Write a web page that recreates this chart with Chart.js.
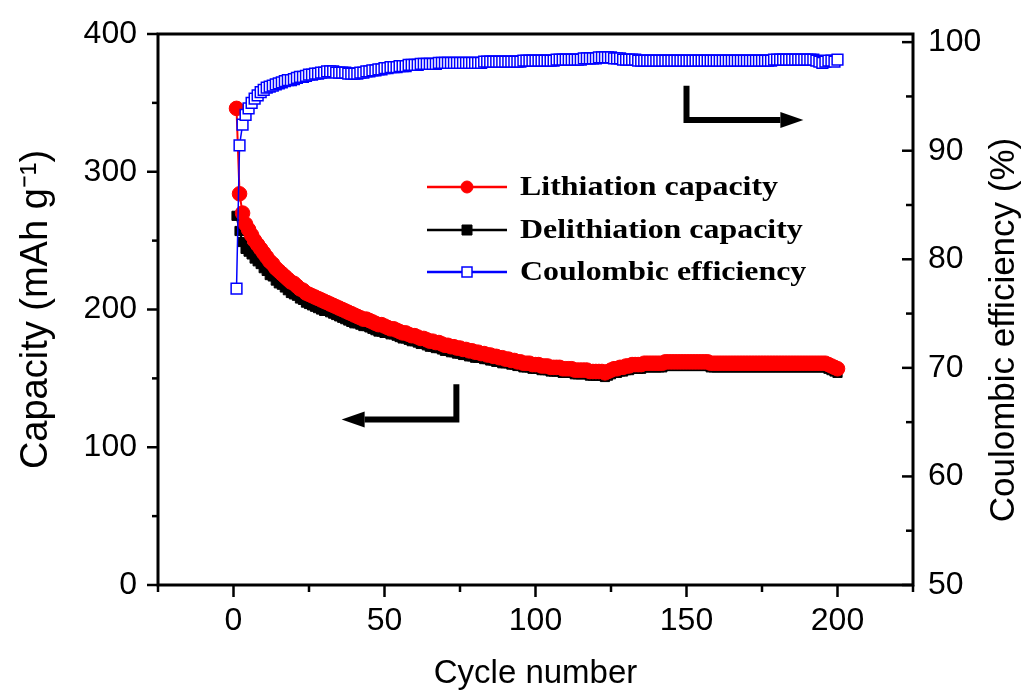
<!DOCTYPE html>
<html>
<head>
<meta charset="utf-8">
<script src="https://cdn.jsdelivr.net/npm/chart.js@4"></script>
<style>
  html, body { margin: 0; padding: 0; background: #fff; }
  #wrap { width: 1027px; height: 695px; }
</style>
</head>
<body>
<div id="wrap"><canvas id="capChart" width="1027" height="695"></canvas></div>
<script>
// capacity, cycle 1..200 (mAh/g)
const lithiation = [
  346, 284, 270, 262, 258, 254, 250, 247, 244, 241,
  238, 235, 233, 230, 228, 226, 224, 222, 220, 219,
  217, 215, 214, 212, 211, 210, 209, 208, 207, 206,
  205, 204, 203, 202, 201, 200, 199, 198, 197, 196,
  195, 194, 193, 193, 192, 191, 190, 189, 189, 188,
  187, 186, 186, 185, 184, 183, 183, 182, 181, 181,
  180, 179, 179, 178, 177, 177, 176, 176, 175, 174,
  174, 173, 173, 172, 172, 171, 171, 170, 170, 169,
  169, 168, 168, 167, 167, 166, 166, 165, 165, 164,
  164, 163, 163, 162, 162, 161, 161, 161, 160, 160,
  160, 159, 159, 159, 158, 158, 158, 158, 157, 157,
  157, 157, 156, 156, 156, 156, 156, 155, 155, 155,
  155, 155, 154, 155, 156, 157, 157, 158, 158, 159,
  159, 160, 160, 160, 160, 161, 161, 161, 161, 161,
  161, 161, 162, 162, 162, 162, 162, 162, 162, 162,
  162, 162, 162, 162, 162, 162, 162, 161, 161, 161,
  161, 161, 161, 161, 161, 161, 161, 161, 161, 161,
  161, 161, 161, 161, 161, 161, 161, 161, 161, 161,
  161, 161, 161, 161, 161, 161, 161, 161, 161, 161,
  161, 161, 161, 161, 161, 161, 160, 159, 158, 157
];
const delithiation = [
  268, 257, 249, 244, 242, 240, 237, 235, 233, 230,
  228, 225, 224, 221, 219, 218, 216, 214, 212, 211,
  210, 208, 207, 205, 204, 203, 202, 201, 200, 199,
  199, 198, 197, 196, 195, 194, 193, 192, 191, 190,
  190, 189, 188, 188, 187, 186, 185, 184, 184, 183,
  183, 182, 182, 181, 180, 179, 179, 178, 177, 177,
  176, 175, 175, 174, 173, 173, 172, 172, 171, 170,
  170, 169, 169, 168, 168, 167, 167, 166, 166, 165,
  165, 165, 164, 164, 163, 163, 162, 162, 161, 161,
  161, 160, 160, 159, 159, 158, 158, 158, 157, 157,
  157, 156, 156, 156, 155, 155, 155, 155, 154, 154,
  154, 154, 153, 153, 153, 153, 153, 152, 152, 152,
  152, 152, 151, 152, 153, 154, 154, 155, 155, 156,
  156, 157, 157, 157, 157, 158, 158, 158, 158, 158,
  158, 158, 159, 159, 159, 159, 159, 159, 159, 159,
  159, 159, 159, 159, 159, 159, 159, 158, 158, 158,
  158, 158, 158, 158, 158, 158, 158, 158, 158, 158,
  158, 158, 158, 158, 158, 158, 158, 158, 158, 158,
  158, 158, 158, 158, 158, 158, 158, 158, 158, 158,
  158, 158, 158, 158, 158, 158, 157, 156, 155, 154
];
// coulombic efficiency (%)
const efficiency = [
  77.3, 90.5, 92.4, 93.3, 93.9, 94.4, 94.8, 95.1, 95.4, 95.6,
  95.8, 95.9, 96.0, 96.1, 96.2, 96.3, 96.4, 96.5, 96.5, 96.6,
  96.7, 96.8, 96.8, 96.9, 97.0, 97.0, 97.1, 97.1, 97.2, 97.2,
  97.3, 97.3, 97.3, 97.2, 97.2, 97.2, 97.2, 97.1, 97.1, 97.1,
  97.1, 97.2, 97.2, 97.3, 97.3, 97.4, 97.4, 97.5, 97.5, 97.6,
  97.6, 97.7, 97.7, 97.7, 97.8, 97.8, 97.8, 97.9, 97.9, 97.9,
  97.9, 98.0, 98.0, 98.0, 98.0, 98.0, 98.0, 98.1, 98.1, 98.1,
  98.1, 98.1, 98.1, 98.1, 98.1, 98.1, 98.1, 98.1, 98.1, 98.1,
  98.1, 98.1, 98.2, 98.2, 98.2, 98.2, 98.2, 98.2, 98.2, 98.2,
  98.2, 98.2, 98.2, 98.2, 98.2, 98.3, 98.3, 98.3, 98.3, 98.3,
  98.3, 98.3, 98.3, 98.3, 98.3, 98.3, 98.4, 98.4, 98.4, 98.4,
  98.4, 98.4, 98.4, 98.4, 98.4, 98.5, 98.5, 98.5, 98.5, 98.5,
  98.6, 98.6, 98.6, 98.6, 98.6, 98.5, 98.5, 98.5, 98.4, 98.4,
  98.4, 98.4, 98.4, 98.3, 98.3, 98.3, 98.3, 98.3, 98.3, 98.3,
  98.3, 98.3, 98.3, 98.3, 98.3, 98.3, 98.3, 98.3, 98.3, 98.3,
  98.3, 98.3, 98.3, 98.3, 98.3, 98.3, 98.3, 98.3, 98.3, 98.3,
  98.3, 98.3, 98.3, 98.3, 98.3, 98.3, 98.3, 98.3, 98.3, 98.3,
  98.3, 98.3, 98.3, 98.3, 98.3, 98.3, 98.3, 98.3, 98.4, 98.4,
  98.4, 98.4, 98.4, 98.4, 98.4, 98.4, 98.4, 98.4, 98.4, 98.4,
  98.4, 98.4, 98.3, 98.2, 98.1, 98.2, 98.3, 98.3, 98.2, 98.4
];
const cycles = lithiation.map((_, i) => i + 1);

const xTicks = [0, 50, 100, 150, 200];
const capTicks = [0, 100, 200, 300, 400];
const ceTicks = [50, 60, 70, 80, 90, 100];

const seriesNames = ['Lithiation capacity', 'Delithiation capacity', 'Coulombic efficiency'];

// L-shaped arrows that point to the axis each curve belongs to (data units)
const arrows = [
  { scale: 'yCap', corner: [73.8, 145.8], turn: 120.2, tip: 35.8 },
  { scale: 'yCap', corner: [150, 362.5], turn: 337.5, tip: 188.7 }
];

const sansFont = "'Liberation Sans', Arial, sans-serif";

const framePlugin = {
  id: 'frame',
  afterDraw(chart) {
    const { ctx, chartArea: a, scales } = chart;
    ctx.save();
    ctx.strokeStyle = '#000';
    ctx.lineWidth = 3;
    ctx.strokeRect(a.left, a.top, a.right - a.left, a.bottom - a.top);
    ctx.lineWidth = 2.5;
    const line = (x1, y1, x2, y2) => {
      ctx.beginPath(); ctx.moveTo(x1, y1); ctx.lineTo(x2, y2); ctx.stroke();
    };
    for (let v = -25; v <= 225; v += 25) {
      const px = scales.x.getPixelForValue(v);
      line(px, a.bottom, px, a.bottom + (v % 50 === 0 ? 12 : 7));
    }
    for (let v = 0; v <= 400; v += 50) {
      const py = scales.yCap.getPixelForValue(v);
      line(a.left, py, a.left - (v % 100 === 0 ? 11 : 6), py);
    }
    for (let v = 50; v <= 100; v += 5) {
      const py = scales.yCE.getPixelForValue(v);
      line(a.right, py, a.right - (v % 10 === 0 ? 11 : 7), py);
    }

    // right axis title reads bottom to top
    ctx.fillStyle = '#000';
    ctx.font = '35px ' + sansFont;
    ctx.textAlign = 'center';
    ctx.textBaseline = 'middle';
    ctx.translate(1004, 330);
    ctx.rotate(-Math.PI / 2);
    ctx.fillText('Coulombic efficiency (%)', 0, 0);
    ctx.restore();
  }
};

const notesPlugin = {
  id: 'notes',
  afterDatasetsDraw(chart) {
    const { ctx, scales } = chart;
    ctx.save();

    // arrows
    ctx.strokeStyle = '#000';
    ctx.fillStyle = '#000';
    ctx.lineWidth = 6;
    ctx.lineJoin = 'miter';
    arrows.forEach(ar => {
      const ys = scales[ar.scale];
      const cx = scales.x.getPixelForValue(ar.corner[0]);
      const top = ys.getPixelForValue(ar.corner[1]);
      const yy = ys.getPixelForValue(ar.turn);
      const tip = scales.x.getPixelForValue(ar.tip);
      const dir = tip < cx ? -1 : 1;
      const base = tip - dir * 23;
      ctx.beginPath();
      ctx.moveTo(cx, top);
      ctx.lineTo(cx, yy);
      ctx.lineTo(base, yy);
      ctx.stroke();
      ctx.beginPath();
      ctx.moveTo(tip, yy);
      ctx.lineTo(base, yy - 8);
      ctx.lineTo(base, yy + 8);
      ctx.closePath();
      ctx.fill();
    });

    // legend
    const rows = [187, 230, 272];
    chart.data.datasets.forEach((ds, i) => {
      const y = rows[i];
      ctx.strokeStyle = ds.borderColor;
      ctx.lineWidth = 2.5;
      ctx.beginPath();
      ctx.moveTo(427, y);
      ctx.lineTo(507, y);
      ctx.stroke();
      ctx.fillStyle = ds.pointBackgroundColor;
      ctx.strokeStyle = ds.pointBorderColor;
      ctx.lineWidth = ds.pointBorderWidth;
      ctx.beginPath();
      if (ds.pointStyle === 'circle') {
        ctx.arc(467, y, 6, 0, Math.PI * 2);
      } else {
        ctx.rect(462, y - 5, 10, 10);
      }
      ctx.fill();
      ctx.stroke();
      ctx.save();
      ctx.fillStyle = '#000';
      ctx.font = "bold 28px 'Liberation Serif', 'Times New Roman', serif";
      ctx.textAlign = 'left';
      ctx.textBaseline = 'middle';
      ctx.translate(520, y + 1);
      ctx.scale(1.14, 1);
      ctx.fillText(seriesNames[i], 0, 0);
      ctx.restore();
    });
    ctx.restore();
  }
};

// keep the plot frame where the figure has it: no extra room for end labels
const fixVertical = width => s => {
  s.width = width;
  s.paddingTop = 0;
  s.paddingBottom = 0;
};

new Chart(document.getElementById('capChart'), {
  type: 'line',
  data: {
    labels: cycles,
    datasets: [
      {
        label: seriesNames[0],
        data: lithiation,
        yAxisID: 'yCap',
        borderColor: '#ff0000',
        borderWidth: 2,
        pointStyle: 'circle',
        pointRadius: 7.3,
        pointBackgroundColor: '#ff0000',
        pointBorderColor: '#ff0000',
        pointBorderWidth: 1,
        order: 1
      },
      {
        label: seriesNames[1],
        data: delithiation,
        yAxisID: 'yCap',
        borderColor: '#000000',
        borderWidth: 2,
        pointStyle: 'rect',
        pointRadius: 6.5,
        pointBackgroundColor: '#000000',
        pointBorderColor: '#000000',
        pointBorderWidth: 1,
        order: 2
      },
      {
        label: seriesNames[2],
        data: efficiency,
        yAxisID: 'yCE',
        borderColor: '#0000ff',
        borderWidth: 1.5,
        pointStyle: 'rect',
        pointRadius: 7.6,
        pointBackgroundColor: '#ffffff',
        pointBorderColor: '#0000ff',
        pointBorderWidth: 1.5,
        order: 0
      }
    ]
  },
  options: {
    responsive: false,
    animation: false,
    layout: { padding: { top: 34, left: 0, right: 0, bottom: 0 } },
    elements: { line: { tension: 0 } },
    plugins: {
      legend: { display: false },
      tooltip: { enabled: false }
    },
    scales: {
      x: {
        type: 'linear',
        position: 'bottom',
        min: -25,
        max: 225,
        afterBuildTicks: s => { s.ticks = xTicks.map(v => ({ value: v })); },
        afterFit: s => { s.height = 110; s.paddingLeft = 0; s.paddingRight = 0; },
        grid: { display: false, drawTicks: false },
        border: { display: false },
        ticks: {
          color: '#000',
          padding: 17,
          maxRotation: 0,
          font: { family: sansFont, size: 32 }
        },
        title: {
          display: true,
          text: 'Cycle number',
          color: '#000',
          padding: { top: 0, bottom: 1 },
          font: { family: sansFont, size: 33 }
        }
      },
      yCap: {
        type: 'linear',
        position: 'left',
        min: 0,
        max: 400,
        afterBuildTicks: s => { s.ticks = capTicks.map(v => ({ value: v })); },
        afterFit: fixVertical(158),
        grid: { display: false, drawTicks: false },
        border: { display: false },
        ticks: {
          color: '#000',
          padding: 21,
          font: { family: sansFont, size: 32 }
        },
        title: {
          display: true,
          text: 'Capacity (mAh g\u207B\u00B9)',
          color: '#000',
          padding: { top: 14, bottom: 0 },
          font: { family: sansFont, size: 38 }
        }
      },
      yCE: {
        type: 'linear',
        position: 'right',
        min: 50,
        max: 100.75,
        afterBuildTicks: s => { s.ticks = ceTicks.map(v => ({ value: v })); },
        afterFit: fixVertical(114),
        grid: { display: false, drawTicks: false },
        border: { display: false },
        ticks: {
          color: '#000',
          padding: 15,
          font: { family: sansFont, size: 32 }
        }
      }
    }
  },
  plugins: [framePlugin, notesPlugin]
});
</script>
</body>
</html>
